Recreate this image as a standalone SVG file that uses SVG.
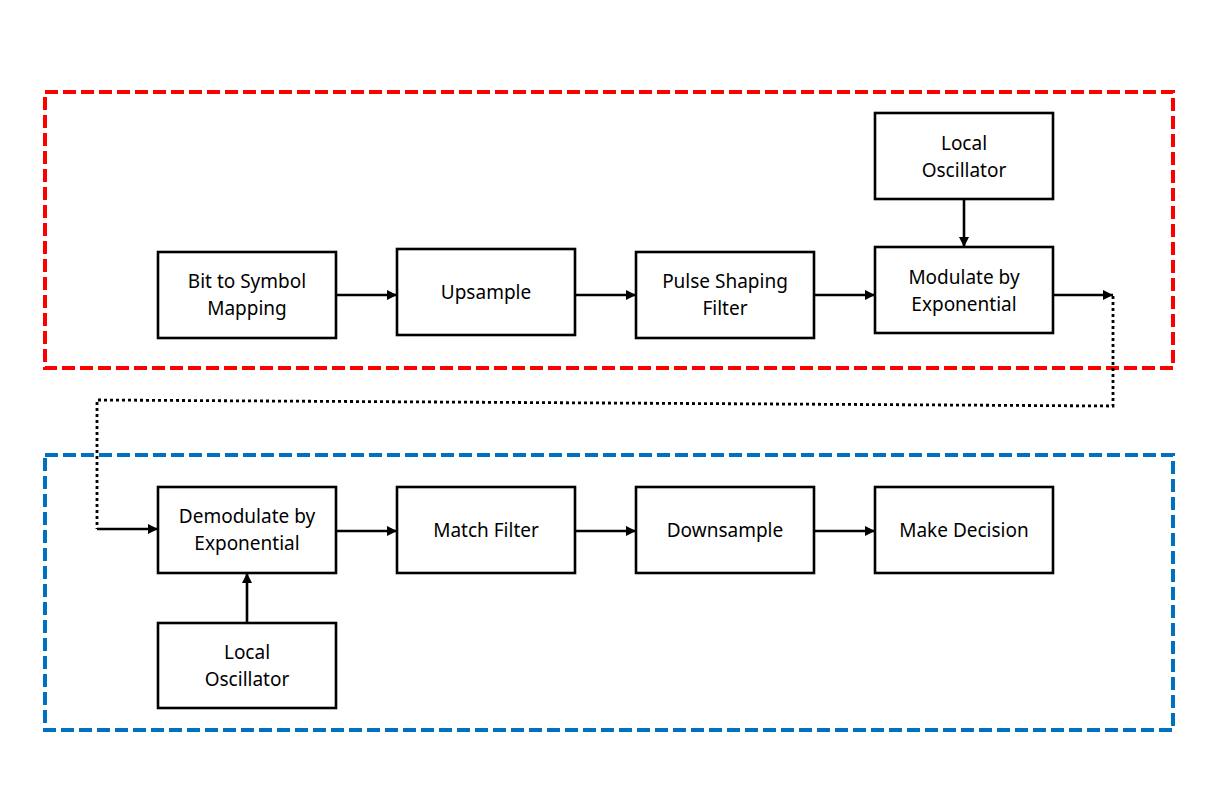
<svg xmlns="http://www.w3.org/2000/svg" width="1215" height="811" viewBox="0 0 1215 811">
<defs>
<marker id="ah" viewBox="0 0 10 10" refX="10" refY="5" markerWidth="10" markerHeight="10" markerUnits="userSpaceOnUse" orient="auto">
<path d="M0,0 L10,5 L0,10 z" fill="#000"/>
</marker>
</defs>
<style>
.box{fill:#fff;stroke:#000;stroke-width:2.6}
.t{font-family:"Noto Sans","Liberation Sans",sans-serif;font-size:19px;fill:#000;text-anchor:middle}
.c{stroke:#000;stroke-width:2.6;fill:none}
.red{fill:none;stroke:#ff0000;stroke-width:4;stroke-dasharray:13 5}
.blue{fill:none;stroke:#0070c0;stroke-width:4;stroke-dasharray:13 5}
.dot{fill:none;stroke:#000;stroke-width:2.8;stroke-dasharray:3 3}
</style>
<rect width="1215" height="811" fill="#fff"/>
<rect id="tx-group" class="red" x="45" y="92" width="1128" height="276"/>
<rect id="rx-group" class="blue" x="45" y="455" width="1128" height="275"/>
<g id="connectors">
<line class="c" x1="336" y1="295" x2="397" y2="295" marker-end="url(#ah)"/>
<line class="c" x1="575" y1="295" x2="636" y2="295" marker-end="url(#ah)"/>
<line class="c" x1="814" y1="295" x2="875" y2="295" marker-end="url(#ah)"/>
<line class="c" x1="964" y1="199" x2="964" y2="247" marker-end="url(#ah)"/>
<line class="c" x1="1053" y1="295" x2="1113" y2="295" marker-end="url(#ah)"/>
<polyline class="dot" points="1113,296 1113,406 97,400 97,529"/>
<line class="c" x1="97" y1="529" x2="158" y2="529" marker-end="url(#ah)"/>
<line class="c" x1="247" y1="623" x2="247" y2="573" marker-end="url(#ah)"/>
<line class="c" x1="336" y1="531" x2="397" y2="531" marker-end="url(#ah)"/>
<line class="c" x1="575" y1="531" x2="636" y2="531" marker-end="url(#ah)"/>
<line class="c" x1="814" y1="531" x2="875" y2="531" marker-end="url(#ah)"/>
</g>
<g id="bit-to-symbol"><rect class="box" x="158" y="252" width="178" height="86"/><text class="t" x="247" y="288">Bit to Symbol</text><text class="t" x="247" y="315">Mapping</text></g>
<g id="upsample"><rect class="box" x="397" y="249" width="178" height="86"/><text class="t" x="486" y="299">Upsample</text></g>
<g id="pulse-shaping"><rect class="box" x="636" y="252" width="178" height="86"/><text class="t" x="725" y="288">Pulse Shaping</text><text class="t" x="725" y="315">Filter</text></g>
<g id="local-osc-tx"><rect class="box" x="875" y="113" width="178" height="86"/><text class="t" x="964" y="150">Local</text><text class="t" x="964" y="177">Oscillator</text></g>
<g id="modulate"><rect class="box" x="875" y="247" width="178" height="86"/><text class="t" x="964" y="284">Modulate by</text><text class="t" x="964" y="311">Exponential</text></g>
<g id="demodulate"><rect class="box" x="158" y="487" width="178" height="86"/><text class="t" x="247" y="523">Demodulate by</text><text class="t" x="247" y="550">Exponential</text></g>
<g id="local-osc-rx"><rect class="box" x="158" y="623" width="178" height="85"/><text class="t" x="247" y="659">Local</text><text class="t" x="247" y="686">Oscillator</text></g>
<g id="match-filter"><rect class="box" x="397" y="487" width="178" height="86"/><text class="t" x="486" y="537">Match Filter</text></g>
<g id="downsample"><rect class="box" x="636" y="487" width="178" height="86"/><text class="t" x="725" y="537">Downsample</text></g>
<g id="make-decision"><rect class="box" x="875" y="487" width="178" height="86"/><text class="t" x="964" y="537">Make Decision</text></g>
</svg>
